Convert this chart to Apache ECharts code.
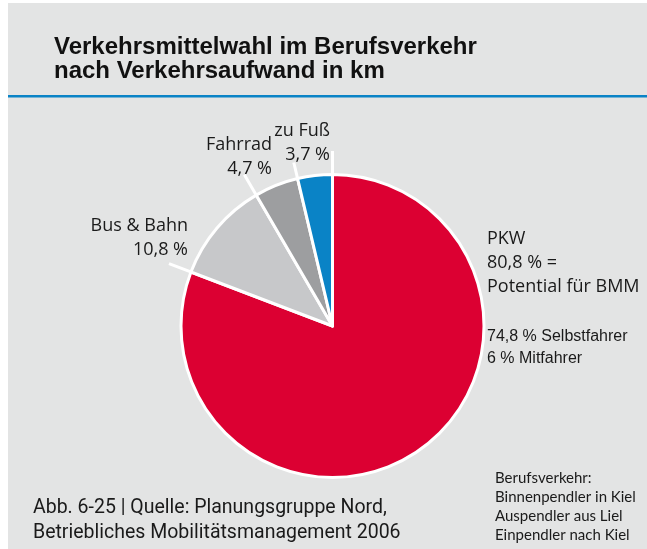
<!DOCTYPE html>
<html>
<head>
<meta charset="utf-8">
<script src="https://cdn.jsdelivr.net/npm/echarts@6/dist/echarts.min.js"></script>
<style>
  html, body { margin: 0; padding: 0; background: #ffffff; }
  #chart { width: 647px; height: 549px; }
</style>
</head>
<body>
<div id="chart"></div>
<script>
// Modal split in commuter traffic, share of kilometres travelled (%)
const categories = ['PKW', 'Bus & Bahn', 'Fahrrad', 'zu Fuß'];
const shares = [80.8, 10.8, 4.7, 3.7];
// Breakdown of the car share
const pkwParts = [74.8, 6];
const pkwPartNames = ['Selbstfahrer', 'Mitfahrer'];
const pkwNote = 'Potential für BMM';
const commuterGroups = ['Binnenpendler in Kiel', 'Auspendler aus Liel', 'Einpendler nach Kiel'];

const sliceColors = ['#dc0032', '#c7c8ca', '#9d9ea0', '#0a83c6'];
const center = [332.5, 326];
const pieRadius = 151.5;
const tickInner = 151;
// outer reach of the white separator at the start of each slice
const tickOuter = [175, 175, 175, 168];

const fmt = v => String(v).replace('.', ',');

// Slice boundaries (cumulative shares) where the white separators run outwards
const total = shares.reduce((a, b) => a + b, 0);
const boundaries = [];
let acc = 0;
shares.forEach(v => { boundaries.push(acc); acc += v; });

// Label anchors for each slice (layout only)
const labelAnchors = [
  { x: 487, y: 227, align: 'left' },
  { x: 188, y: 214, align: 'right' },
  { x: 272, y: 133, align: 'right' },
  { x: 330, y: 119, align: 'right' }
];

const chart = echarts.init(document.getElementById('chart'), null, { renderer: 'canvas' });

const separatorSeries = boundaries.map((b, i) => ({
  type: 'line',
  coordinateSystem: 'polar',
  data: [[tickInner, b], [tickOuter[i], b]],
  symbol: 'none',
  silent: true,
  z: 5,
  lineStyle: { color: '#ffffff', width: 3, cap: 'butt' },
  animation: false
}));

chart.setOption({
  backgroundColor: 'transparent',
  animation: false,
  graphic: [
    { type: 'rect', left: 8, top: 3, shape: { width: 639, height: 546 }, style: { fill: '#e3e4e4' }, z: -10, silent: true },
    { type: 'rect', left: 8, top: 95, shape: { width: 639, height: 2.5 }, style: { fill: '#0a83c6' }, z: -5, silent: true }
  ],
  title: [
    {
      text: 'Verkehrsmittelwahl im Berufsverkehr\nnach Verkehrsaufwand in km',
      left: 54, top: 35,
      padding: 0,
      textStyle: { fontFamily: 'Liberation Sans', fontWeight: 'bold', fontSize: 24, lineHeight: 24, color: '#111111' }
    },
    {
      text: pkwParts.map((v, i) => fmt(v) + ' % ' + pkwPartNames[i]).join('\n'),
      left: 487, top: 326,
      padding: 0,
      textStyle: { fontFamily: 'Liberation Sans', fontWeight: 'normal', fontSize: 16, lineHeight: 22, color: '#1a1a1a' }
    },
    {
      text: 'Abb. 6-25 | Quelle: Planungsgruppe Nord,\nBetriebliches Mobilitätsmanagement 2006',
      left: 33, top: 496,
      padding: 0,
      textStyle: { fontFamily: 'Roboto', fontWeight: 'normal', fontSize: 19.5, lineHeight: 25, color: '#1a1a1a' }
    },
    {
      text: 'Berufsverkehr:\n' + commuterGroups.join('\n'),
      left: 495, top: 469,
      padding: 0,
      textStyle: { fontFamily: 'Lato', fontWeight: 'normal', fontSize: 15, lineHeight: 19, color: '#1a1a1a' }
    }
  ],
  polar: { center: center, radius: 180 },
  angleAxis: {
    type: 'value', min: 0, max: total, startAngle: 90, clockwise: true,
    axisLine: { show: false }, axisTick: { show: false }, axisLabel: { show: false }, splitLine: { show: false }
  },
  radiusAxis: {
    type: 'value', min: 0, max: 180,
    axisLine: { show: false }, axisTick: { show: false }, axisLabel: { show: false }, splitLine: { show: false }
  },
  series: [
    {
      type: 'pie',
      center: center,
      radius: pieRadius,
      startAngle: 90,
      clockwise: true,
      avoidLabelOverlap: false,
      z: 2,
      data: categories.map((name, i) => ({
        name: name,
        value: shares[i],
        itemStyle: { color: sliceColors[i] }
      })),
      itemStyle: { borderColor: '#ffffff', borderWidth: 3 },
      emphasis: { disabled: true },
      label: {
        show: true,
        position: 'outside',
        fontFamily: 'Open Sans',
        fontSize: 18,
        lineHeight: 24,
        color: '#1a1a1a',
        formatter: p => p.dataIndex === 0
          ? p.name + '\n' + fmt(p.value) + ' % =\n' + pkwNote
          : p.name + '\n' + fmt(p.value) + ' %'
      },
      labelLine: { show: false },
      labelLayout: params => {
        const a = labelAnchors[params.dataIndex];
        return { x: a.x, y: a.y, align: a.align, verticalAlign: 'top' };
      }
    },
    ...separatorSeries
  ]
});
</script>
</body>
</html>
